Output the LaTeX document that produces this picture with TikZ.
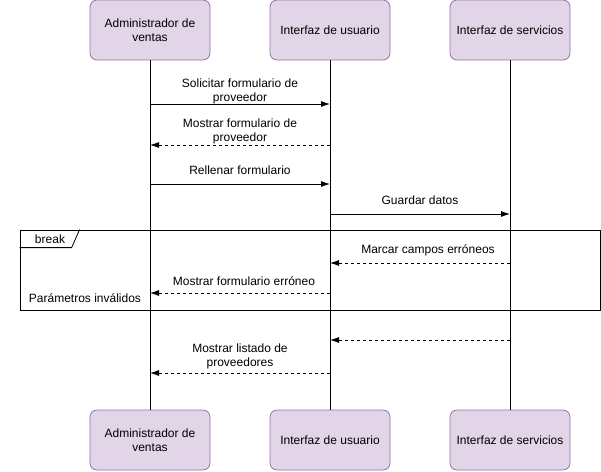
\documentclass[tikz,border=0pt]{standalone}
\usepackage{fontspec}
\setmainfont{Liberation Sans}
\usepackage{tikz}
\usetikzlibrary{positioning}
\usetikzlibrary{arrows.meta}
\definecolor{actfill}{HTML}{E1D5E7}
\definecolor{actline}{HTML}{9673A6}
\begin{document}
\begin{tikzpicture}[x=1pt,y=-1pt,font=\fontsize{12}{14}\selectfont,act/.style={draw=actline,fill=actfill,rounded corners=7pt,minimum width=120pt,minimum height=60pt,align=center,line width=0.8pt},msg/.style={-{Latex[length=9pt,width=6pt]},line width=0.8pt},ret/.style={-{Latex[length=9pt,width=6pt]},dashed,line width=0.8pt},lbl/.style={align=center,inner sep=0pt}]
\useasboundingbox (0,0) rectangle (601,471);
% actors
\node (av) [act] at (150,30) {Administrador de\\ventas};
\node (iu) [act] at (330,30) {Interfaz de usuario};
\node (is) [act] at (510,30) {Interfaz de servicios};
\node (av2) [act] at (150,440) {Administrador de\\ventas};
\node (iu2) [act] at (330,440) {Interfaz de usuario};
\node (is2) [act] at (510,440) {Interfaz de servicios};
\draw[line width=0.8pt] (av) -- (av2);
\draw[line width=0.8pt] (iu) -- (iu2);
\draw[line width=0.8pt] (is) -- (is2);
% points on lifelines
\coordinate (a1) at (150,104); \coordinate (b1) at (330,104);
\coordinate (a2) at (150,145); \coordinate (b2) at (330,145);
\coordinate (a3) at (150,184); \coordinate (b3) at (330,184);
\coordinate (b4) at (330,214); \coordinate (c4) at (510,214);
\coordinate (b5) at (330,263); \coordinate (c5) at (510,263);
\coordinate (a6) at (150,293); \coordinate (b6) at (330,293);
\coordinate (b7) at (330,340); \coordinate (c7) at (510,340);
\coordinate (a8) at (150,373); \coordinate (b8) at (330,373);
% break frame
\node (brk) [draw,line width=0.8pt,minimum width=580pt,minimum height=80pt,inner sep=0pt] at (310,270) {};
\draw[line width=0.8pt] (brk.north west) ++(0,18) -- ++(52,0) -- ++(8,-18);
\node (brkl) [lbl] at (50,239.5) {break};
\node (pinv) [lbl] at (85,298.5) {Parámetros inválidos};
% messages
\draw[msg] (a1) -- (b1);
\node (l1) [lbl] at (240,91) {Solicitar formulario de\\proveedor};
\draw[ret] (b2) -- (a2);
\node (l2) [lbl] at (240,131) {Mostrar formulario de\\proveedor};
\draw[msg] (a3) -- (b3);
\node (l3) [lbl] at (240,170.5) {Rellenar formulario};
\draw[msg] (b4) -- (c4);
\node (l4) [lbl] at (420,200.5) {Guardar datos};
\draw[ret] (c5) -- (b5);
\node (l5) [lbl] at (428,250) {Marcar campos erróneos};
\draw[ret] (b6) -- (a6);
\node (l6) [lbl] at (244,281) {Mostrar formulario erróneo};
\draw[ret] (c7) -- (b7);
\draw[ret] (b8) -- (a8);
\node (l8) [lbl] at (240,356) {Mostrar listado de\\proveedores};
\end{tikzpicture}
\end{document}
